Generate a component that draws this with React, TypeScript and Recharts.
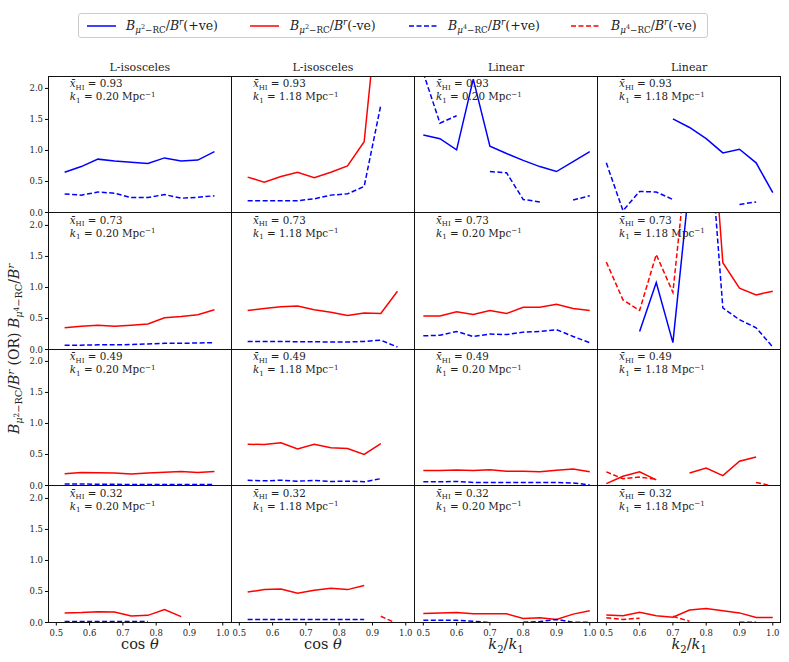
import React from 'react';
import { LineChart, Line, XAxis, YAxis } from 'recharts';

// x grids
const cosTheta = [0.525, 0.575, 0.625, 0.675, 0.725, 0.775, 0.825, 0.875, 0.925, 0.975];
const k2k1 = [0.5, 0.55, 0.6, 0.65, 0.7, 0.75, 0.8, 0.85, 0.9, 0.95, 1.0];
const xTicks = [0.5, 0.6, 0.7, 0.8, 0.9, 1.0];
const yTicks = [0, 0.5, 1, 1.5, 2];
const rowXHI = ['0.93', '0.73', '0.49', '0.32'];
const colK1 = ['0.20', '1.18', '0.20', '1.18'];
const colTitles = ['L-isosceles', 'L-isosceles', 'Linear', 'Linear'];

type S = (number | null)[];

// x_HI = 0.93
const iso020_93_mu2p: S = [0.65, 0.74, 0.86, 0.83, 0.81, 0.79, 0.88, 0.83, 0.845, 0.98];
const iso020_93_mu4p: S = [0.3, 0.28, 0.33, 0.31, 0.24, 0.24, 0.29, 0.23, 0.245, 0.27];
const iso118_93_mu2n: S = [0.57, 0.49, 0.58, 0.65, 0.56, 0.65, 0.75, 1.14, 3.8, null];
const iso118_93_mu4p: S = [0.19, 0.19, 0.19, 0.19, 0.22, 0.28, 0.3, 0.42, 1.73, null];
const lin020_93_mu2p: S = [1.25, 1.19, 1.01, 2.15, 1.07, 0.95, 0.84, 0.74, 0.66, 0.82, 0.98];
const lin020_93_mu4p: S = [2.25, 1.44, 1.56, null, 0.66, 0.64, 0.21, 0.17, null, 0.2, 0.27];
const lin118_93_mu2p: S = [null, null, null, null, 1.51, 1.37, 1.19, 0.96, 1.02, 0.8, 0.32];
const lin118_93_mu4p: S = [0.8, 0.03, 0.34, 0.33, 0.21, null, null, null, 0.13, 0.17, null];

// x_HI = 0.73
const iso020_73_mu2n: S = [0.35, 0.375, 0.39, 0.375, 0.39, 0.41, 0.51, 0.53, 0.56, 0.64];
const iso020_73_mu4p: S = [0.07, 0.07, 0.075, 0.075, 0.08, 0.09, 0.1, 0.1, 0.105, 0.11];
const iso118_73_mu2n: S = [0.63, 0.66, 0.69, 0.7, 0.64, 0.6, 0.55, 0.59, 0.58, 0.94];
const iso118_73_mu4p: S = [0.13, 0.13, 0.13, 0.125, 0.125, 0.12, 0.12, 0.13, 0.15, 0.04];
const lin020_73_mu2n: S = [0.54, 0.54, 0.61, 0.565, 0.63, 0.58, 0.68, 0.68, 0.73, 0.66, 0.63];
const lin020_73_mu4p: S = [0.22, 0.23, 0.29, 0.21, 0.25, 0.24, 0.28, 0.29, 0.32, 0.21, 0.11];
const lin118_73_mu2p: S = [null, null, 0.29, 1.08, 0.11, 2.7, null, null, null, null, null];
const lin118_73_mu2n: S = [null, null, null, null, null, null, 5.0, 1.4, 0.99, 0.88, 0.94];
const lin118_73_mu4p: S = [null, null, null, null, null, null, 4.2, 0.67, 0.48, 0.35, 0.04];
const lin118_73_mu4n: S = [1.41, 0.8, 0.63, 1.53, 0.92, 3.5, null, null, null, null, null];

// x_HI = 0.49
const iso020_49_mu2n: S = [0.19, 0.21, 0.205, 0.2, 0.185, 0.2, 0.215, 0.225, 0.21, 0.225];
const iso020_49_mu4p: S = [0.025, 0.025, 0.02, 0.02, 0.015, 0.015, 0.015, 0.015, 0.015, 0.015];
const iso118_49_mu2n: S = [0.665, 0.66, 0.69, 0.59, 0.665, 0.61, 0.595, 0.5, 0.675, null];
const iso118_49_mu4p: S = [0.085, 0.075, 0.085, 0.07, 0.08, 0.065, 0.07, 0.06, 0.11, null];
const lin020_49_mu2n: S = [0.24, 0.24, 0.25, 0.24, 0.255, 0.23, 0.23, 0.22, 0.245, 0.265, 0.22];
const lin020_49_mu4p: S = [0.06, 0.06, 0.065, 0.05, 0.05, 0.05, 0.05, 0.05, 0.05, 0.04, 0.01];
const lin118_49_mu2n: S = [0.03, 0.15, 0.22, 0.09, null, 0.2, 0.28, 0.16, 0.39, 0.46, null];
const lin118_49_mu4n: S = [0.22, 0.11, 0.135, 0.1, null, null, null, null, null, 0.05, -0.01];

// x_HI = 0.32
const iso020_32_mu2n: S = [0.155, 0.16, 0.175, 0.17, 0.105, 0.115, 0.21, 0.095, null, null];
const iso020_32_mu4p: S = [0.015, 0.015, 0.015, 0.015, 0.015, 0.015, null, null, null, null];
const iso118_32_mu2n: S = [0.49, 0.53, 0.54, 0.47, 0.52, 0.55, 0.53, 0.595, null, null];
const iso118_32_mu4p: S = [0.05, 0.05, 0.05, 0.05, 0.05, 0.05, 0.05, 0.05, null, null];
const iso118_32_mu4n: S = [null, null, null, null, null, null, null, null, 0.1, -0.02];
const lin020_32_mu2n: S = [0.145, 0.155, 0.16, 0.14, 0.14, 0.14, 0.065, 0.075, 0.05, 0.135, 0.19];
const lin020_32_mu4p: S = [0.035, 0.035, 0.035, 0.02, 0.0, null, 0.005, 0.015, 0.05, 0.005, 0.005];
const lin118_32_mu2n: S = [0.12, 0.11, 0.165, 0.11, 0.085, 0.2, 0.225, 0.19, 0.155, 0.08, 0.08];
const lin118_32_mu4p: S = [null, null, null, null, null, null, null, null, 0.005, 0.005, null];
const lin118_32_mu4n: S = [0.075, 0.05, 0.07, null, 0.1, 0.02, null, null, null, null, null];

type Panel = { row: number; col: number; mu2p?: S; mu2n?: S; mu4p?: S; mu4n?: S };

const panels: Panel[] = [
  { row: 0, col: 0, mu2p: iso020_93_mu2p, mu4p: iso020_93_mu4p },
  { row: 0, col: 1, mu2n: iso118_93_mu2n, mu4p: iso118_93_mu4p },
  { row: 0, col: 2, mu2p: lin020_93_mu2p, mu4p: lin020_93_mu4p },
  { row: 0, col: 3, mu2p: lin118_93_mu2p, mu4p: lin118_93_mu4p },
  { row: 1, col: 0, mu2n: iso020_73_mu2n, mu4p: iso020_73_mu4p },
  { row: 1, col: 1, mu2n: iso118_73_mu2n, mu4p: iso118_73_mu4p },
  { row: 1, col: 2, mu2n: lin020_73_mu2n, mu4p: lin020_73_mu4p },
  { row: 1, col: 3, mu2p: lin118_73_mu2p, mu2n: lin118_73_mu2n, mu4p: lin118_73_mu4p, mu4n: lin118_73_mu4n },
  { row: 2, col: 0, mu2n: iso020_49_mu2n, mu4p: iso020_49_mu4p },
  { row: 2, col: 1, mu2n: iso118_49_mu2n, mu4p: iso118_49_mu4p },
  { row: 2, col: 2, mu2n: lin020_49_mu2n, mu4p: lin020_49_mu4p },
  { row: 2, col: 3, mu2n: lin118_49_mu2n, mu4n: lin118_49_mu4n },
  { row: 3, col: 0, mu2n: iso020_32_mu2n, mu4p: iso020_32_mu4p },
  { row: 3, col: 1, mu2n: iso118_32_mu2n, mu4p: iso118_32_mu4p, mu4n: iso118_32_mu4n },
  { row: 3, col: 2, mu2n: lin020_32_mu2n, mu4p: lin020_32_mu4p },
  { row: 3, col: 3, mu2n: lin118_32_mu2n, mu4p: lin118_32_mu4p, mu4n: lin118_32_mu4n },
];

const seriesStyle = [
  { key: 'mu2p', color: '#0000ff', dash: undefined },
  { key: 'mu2n', color: '#ff0000', dash: undefined },
  { key: 'mu4p', color: '#0000ff', dash: '5 2.5' },
  { key: 'mu4n', color: '#ff0000', dash: '5 2.5' },
] as const;

const FONT = '"DejaVu Serif", serif';
const TXT = '#222';
const LEFT0 = 48.3;
const TOP0 = 76;
const W = 183.1;
const H = 136.5;
const PAD_L = 40;
const PAD_B = 30;

// place a line of text by its baseline
const topFor = (baseline: number, fs: number, lh: number) => baseline - ((lh - 1.164 * fs) / 2 + 0.928 * fs);

const Sub = ({ children, s = 0.7 }: { children: React.ReactNode; s?: number }) => (
  <span style={{ fontSize: `${s}em`, position: 'relative', top: '0.35em' }}>{children}</span>
);
const Sup = ({ children, s = 0.7 }: { children: React.ReactNode; s?: number }) => (
  <span style={{ fontSize: `${s}em`, position: 'relative', top: '-0.5em' }}>{children}</span>
);

const Bratio = ({ p }: { p: string }) => (
  <span>
    <i>B</i>
    <Sub>
      <i>μ</i>
      <Sup s={0.75}>{p}</Sup>−RC
    </Sub>
    /<i>B</i>
    <Sup>
      <i>r</i>
    </Sup>
  </span>
);

function PanelChart({ p }: { p: Panel }) {
  const xs = p.col < 2 ? cosTheta : k2k1;
  const rows = xs.map((x, i) => ({
    x,
    mu2p: p.mu2p ? p.mu2p[i] : null,
    mu2n: p.mu2n ? p.mu2n[i] : null,
    mu4p: p.mu4p ? p.mu4p[i] : null,
    mu4n: p.mu4n ? p.mu4n[i] : null,
  }));
  const left = LEFT0 + p.col * W;
  const top = TOP0 + p.row * H;
  const showX = p.row === 3;
  const showY = p.col === 0;
  return (
    <div style={{ position: 'absolute', left: left - PAD_L, top }}>
      <LineChart width={W + PAD_L} height={H + PAD_B} data={rows} margin={{ top: 0, right: 0, bottom: 0, left: 0 }}>
        <XAxis
          type="number"
          dataKey="x"
          domain={[0.475, 1.025]}
          ticks={xTicks}
          allowDataOverflow
          height={PAD_B}
          axisLine={false}
          tickSize={3}
          tickMargin={4}
          tickLine={{ stroke: '#000' }}
          interval={0}
          tick={showX ? { fontFamily: FONT, fontSize: 8.5, fill: TXT } : false}
          tickFormatter={(v: number) => v.toFixed(1)}
        />
        <YAxis
          type="number"
          domain={[0, 2.2]}
          ticks={yTicks}
          allowDataOverflow
          width={PAD_L}
          axisLine={false}
          tickSize={3}
          tickMargin={2}
          tickLine={{ stroke: '#000' }}
          interval={0}
          tick={showY ? { fontFamily: FONT, fontSize: 8.5, fill: TXT } : false}
          tickFormatter={(v: number) => v.toFixed(1)}
        />
        {seriesStyle
          .filter((s) => p[s.key])
          .map((s) => (
            <Line
              key={s.key}
              dataKey={s.key}
              stroke={s.color}
              strokeWidth={1.5}
              strokeDasharray={s.dash}
              dot={false}
              activeDot={false}
              isAnimationActive={false}
            />
          ))}
      </LineChart>
    </div>
  );
}

function Annotation({ p }: { p: Panel }) {
  const left = LEFT0 + p.col * W + 21.5;
  const top = TOP0 + p.row * H;
  const fs = 10.3;
  return (
    <div style={{ position: 'absolute', left, top: topFor(top + 11.3, fs, 11), fontSize: fs, lineHeight: '11px', color: TXT, whiteSpace: 'nowrap' }}>
      <div>
        <i>x̄</i>
        <Sub s={0.68}>HI</Sub> = {rowXHI[p.row]}
      </div>
      <div>
        <i>k</i>
        <Sub>1</Sub> = {colK1[p.col]} Mpc<Sup>−1</Sup>
      </div>
    </div>
  );
}

const legendItems = [
  { p: '2', sign: '+ve', color: '#0000ff', dash: undefined, lineX: 87, textX: 126 },
  { p: '2', sign: '-ve', color: '#ff0000', dash: undefined, lineX: 250, textX: 290 },
  { p: '4', sign: '+ve', color: '#0000ff', dash: '5 2.5', lineX: 409, textX: 448 },
  { p: '4', sign: '-ve', color: '#ff0000', dash: '5 2.5', lineX: 571, textX: 611 },
];

export default function App() {
  const fsL = 12.5;
  return (
    <div style={{ position: 'absolute', left: 0, top: 0, width: 789, height: 662, background: '#fff', fontFamily: FONT, color: TXT }}>
      {/* legend */}
      <div style={{ position: 'absolute', left: 78, top: 13, width: 630, height: 25, border: '1px solid #ccc', borderRadius: 3, boxSizing: 'border-box' }} />
      {legendItems.map((it, i) => (
        <React.Fragment key={i}>
          <svg style={{ position: 'absolute', left: it.lineX, top: 24 }} width={30} height={4}>
            <line x1={0} x2={29} y1={2} y2={2} stroke={it.color} strokeWidth={1.5} strokeDasharray={it.dash} />
          </svg>
          <div style={{ position: 'absolute', left: it.textX, top: topFor(30, fsL, 16), fontSize: fsL, lineHeight: '16px', whiteSpace: 'nowrap' }}>
            <Bratio p={it.p} />({it.sign})
          </div>
        </React.Fragment>
      ))}

      {/* column titles */}
      {colTitles.map((t, c) => (
        <div key={c} style={{ position: 'absolute', left: LEFT0 + c * W, width: W, textAlign: 'center', top: topFor(71.5, 11, 14), fontSize: 11, lineHeight: '14px' }}>
          {t}
        </div>
      ))}

      {panels.map((p, i) => (
        <PanelChart key={i} p={p} />
      ))}

      {/* panel frames */}
      {panels.map((p, i) => (
        <div
          key={'f' + i}
          style={{ position: 'absolute', left: LEFT0 + p.col * W - 0.5, top: TOP0 + p.row * H - 0.5, width: W + 1, height: H + 1, border: '1px solid #111', boxSizing: 'border-box', pointerEvents: 'none' }}
        />
      ))}

      {panels.map((p, i) => (
        <Annotation key={'a' + i} p={p} />
      ))}

      {/* x labels */}
      {[0, 1, 2, 3].map((c) => (
        <div key={'xl' + c} style={{ position: 'absolute', left: LEFT0 + c * W, width: W, textAlign: 'center', top: topFor(649, 14.5, 18), fontSize: 14.5, lineHeight: '18px' }}>
          {c < 2 ? (
            <span>
              cos <i>θ</i>
            </span>
          ) : (
            <span>
              <i>k</i>
              <Sub>2</Sub>/<i>k</i>
              <Sub>1</Sub>
            </span>
          )}
        </div>
      ))}

      {/* y label */}
      <div
        style={{ position: 'absolute', left: 14 - 150, top: 349 - 10, width: 300, height: 20, lineHeight: '20px', textAlign: 'center', fontSize: 14, transform: 'rotate(-90deg)', whiteSpace: 'nowrap' }}
      >
        <Bratio p="2" /> (OR) <Bratio p="4" />
      </div>
    </div>
  );
}
